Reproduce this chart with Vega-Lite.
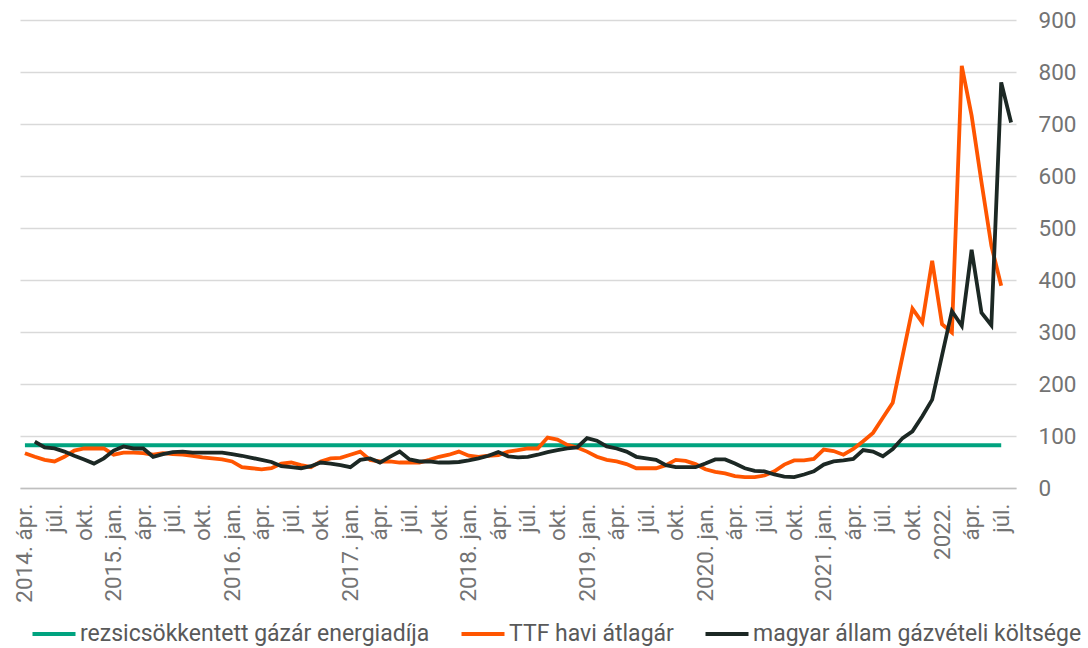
{
  "$schema": "https://vega.github.io/schema/vega-lite/v6.json",
  "autosize": {"type": "none"},
  "width": 996,
  "height": 468,
  "padding": {"top": 20, "left": 20, "right": 72, "bottom": 160},
  "background": "white",
  "config": {
    "view": {"stroke": null},
    "font": "Roboto"
  },
  "data": {
    "values": [
      {"month": "2014-04", "r": 82, "t": 67},
      {"month": "2014-05", "r": 82, "t": 60, "m": 89},
      {"month": "2014-06", "r": 82, "t": 54, "m": 78},
      {"month": "2014-07", "r": 82, "t": 51, "m": 76},
      {"month": "2014-08", "r": 82, "t": 60, "m": 70},
      {"month": "2014-09", "r": 82, "t": 72, "m": 62},
      {"month": "2014-10", "r": 82, "t": 76, "m": 55},
      {"month": "2014-11", "r": 82, "t": 76, "m": 47},
      {"month": "2014-12", "r": 82, "t": 76, "m": 57},
      {"month": "2015-01", "r": 82, "t": 64, "m": 72},
      {"month": "2015-02", "r": 82, "t": 68, "m": 80},
      {"month": "2015-03", "r": 82, "t": 68, "m": 76},
      {"month": "2015-04", "r": 82, "t": 67, "m": 76},
      {"month": "2015-05", "r": 82, "t": 64, "m": 60},
      {"month": "2015-06", "r": 82, "t": 67, "m": 65},
      {"month": "2015-07", "r": 82, "t": 65, "m": 69},
      {"month": "2015-08", "r": 82, "t": 64, "m": 70},
      {"month": "2015-09", "r": 82, "t": 62, "m": 68},
      {"month": "2015-10", "r": 82, "t": 59, "m": 68},
      {"month": "2015-11", "r": 82, "t": 57, "m": 68},
      {"month": "2015-12", "r": 82, "t": 55, "m": 68},
      {"month": "2016-01", "r": 82, "t": 51, "m": 65},
      {"month": "2016-02", "r": 82, "t": 40, "m": 62},
      {"month": "2016-03", "r": 82, "t": 38, "m": 58},
      {"month": "2016-04", "r": 82, "t": 36, "m": 54},
      {"month": "2016-05", "r": 82, "t": 38, "m": 50},
      {"month": "2016-06", "r": 82, "t": 47, "m": 42},
      {"month": "2016-07", "r": 82, "t": 49, "m": 40},
      {"month": "2016-08", "r": 82, "t": 44, "m": 38},
      {"month": "2016-09", "r": 82, "t": 40, "m": 42},
      {"month": "2016-10", "r": 82, "t": 51, "m": 49},
      {"month": "2016-11", "r": 82, "t": 57, "m": 47},
      {"month": "2016-12", "r": 82, "t": 58, "m": 44},
      {"month": "2017-01", "r": 82, "t": 64, "m": 40},
      {"month": "2017-02", "r": 82, "t": 70, "m": 54},
      {"month": "2017-03", "r": 82, "t": 54, "m": 57},
      {"month": "2017-04", "r": 82, "t": 51, "m": 49},
      {"month": "2017-05", "r": 82, "t": 51, "m": 60},
      {"month": "2017-06", "r": 82, "t": 49, "m": 70},
      {"month": "2017-07", "r": 82, "t": 49, "m": 55},
      {"month": "2017-08", "r": 82, "t": 49, "m": 51},
      {"month": "2017-09", "r": 82, "t": 54, "m": 51},
      {"month": "2017-10", "r": 82, "t": 60, "m": 49},
      {"month": "2017-11", "r": 82, "t": 64, "m": 49},
      {"month": "2017-12", "r": 82, "t": 70, "m": 50},
      {"month": "2018-01", "r": 82, "t": 62, "m": 53},
      {"month": "2018-02", "r": 82, "t": 60, "m": 57},
      {"month": "2018-03", "r": 82, "t": 62, "m": 62},
      {"month": "2018-04", "r": 82, "t": 63, "m": 69},
      {"month": "2018-05", "r": 82, "t": 70, "m": 61},
      {"month": "2018-06", "r": 82, "t": 73, "m": 59},
      {"month": "2018-07", "r": 82, "t": 76, "m": 60},
      {"month": "2018-08", "r": 82, "t": 76, "m": 64},
      {"month": "2018-09", "r": 82, "t": 97, "m": 69},
      {"month": "2018-10", "r": 82, "t": 93, "m": 73},
      {"month": "2018-11", "r": 82, "t": 83, "m": 76},
      {"month": "2018-12", "r": 82, "t": 78, "m": 78},
      {"month": "2019-01", "r": 82, "t": 70, "m": 96},
      {"month": "2019-02", "r": 82, "t": 60, "m": 91},
      {"month": "2019-03", "r": 82, "t": 54, "m": 80},
      {"month": "2019-04", "r": 82, "t": 51, "m": 76},
      {"month": "2019-05", "r": 82, "t": 46, "m": 70},
      {"month": "2019-06", "r": 82, "t": 38, "m": 60},
      {"month": "2019-07", "r": 82, "t": 38, "m": 57},
      {"month": "2019-08", "r": 82, "t": 38, "m": 54},
      {"month": "2019-09", "r": 82, "t": 44, "m": 44},
      {"month": "2019-10", "r": 82, "t": 54, "m": 40},
      {"month": "2019-11", "r": 82, "t": 52, "m": 40},
      {"month": "2019-12", "r": 82, "t": 46, "m": 40},
      {"month": "2020-01", "r": 82, "t": 36, "m": 47},
      {"month": "2020-02", "r": 82, "t": 31, "m": 55},
      {"month": "2020-03", "r": 82, "t": 28, "m": 55},
      {"month": "2020-04", "r": 82, "t": 23, "m": 47},
      {"month": "2020-05", "r": 82, "t": 21, "m": 38},
      {"month": "2020-06", "r": 82, "t": 21, "m": 33},
      {"month": "2020-07", "r": 82, "t": 24, "m": 32},
      {"month": "2020-08", "r": 82, "t": 32, "m": 26},
      {"month": "2020-09", "r": 82, "t": 45, "m": 22},
      {"month": "2020-10", "r": 82, "t": 53, "m": 21},
      {"month": "2020-11", "r": 82, "t": 53, "m": 26},
      {"month": "2020-12", "r": 82, "t": 56, "m": 32},
      {"month": "2021-01", "r": 82, "t": 74, "m": 45},
      {"month": "2021-02", "r": 82, "t": 71, "m": 51},
      {"month": "2021-03", "r": 82, "t": 64, "m": 53},
      {"month": "2021-04", "r": 82, "t": 75, "m": 56},
      {"month": "2021-05", "r": 82, "t": 90, "m": 73},
      {"month": "2021-06", "r": 82, "t": 106, "m": 70},
      {"month": "2021-07", "r": 82, "t": 135, "m": 61},
      {"month": "2021-08", "r": 82, "t": 164, "m": 75},
      {"month": "2021-09", "r": 82, "t": 254, "m": 96},
      {"month": "2021-10", "r": 82, "t": 345, "m": 109},
      {"month": "2021-11", "r": 82, "t": 318, "m": 138},
      {"month": "2021-12", "r": 82, "t": 437, "m": 170},
      {"month": "2022-01", "r": 82, "t": 315, "m": 255},
      {"month": "2022-02", "r": 82, "t": 299, "m": 340},
      {"month": "2022-03", "r": 82, "t": 812, "m": 312},
      {"month": "2022-04", "r": 82, "t": 716, "m": 458},
      {"month": "2022-05", "r": 82, "t": 588, "m": 337},
      {"month": "2022-06", "r": 82, "t": 466, "m": 313},
      {"month": "2022-07", "r": 82, "t": 389, "m": 780},
      {"month": "2022-08", "m": 703}
    ]
  },
  "transform": [
    {"fold": ["r", "t", "m"], "as": ["series", "value"]},
    {"filter": "isValid(datum.value)"}
  ],
  "encoding": {
    "x": {
      "field": "month",
      "type": "ordinal",
      "scale": {"type": "point", "padding": 0.5},
      "title": null,
      "axis": {
        "values": ["2014-04","2014-07","2014-10","2015-01","2015-04","2015-07","2015-10","2016-01","2016-04","2016-07","2016-10","2017-01","2017-04","2017-07","2017-10","2018-01","2018-04","2018-07","2018-10","2019-01","2019-04","2019-07","2019-10","2020-01","2020-04","2020-07","2020-10","2021-01","2021-04","2021-07","2021-10","2022-01","2022-04","2022-07"],
        "labelExpr": "datum.value == '2014-04' ? '2014. ápr.' : datum.value == '2022-01' ? '2022.' : slice(datum.value, 5) == '01' ? slice(datum.value, 0, 4) + '. jan.' : slice(datum.value, 5) == '04' ? 'ápr.' : slice(datum.value, 5) == '07' ? 'júl.' : 'okt.'",
        "labelAngle": -90,
        "labelFontSize": 22.5,
        "labelColor": "#737373",
        "labelPadding": 15,
        "labelOverlap": false,
        "ticks": false,
        "grid": false,
        "domain": true,
        "domainColor": "#bfbfbf",
        "domainWidth": 1.5
      }
    },
    "y": {
      "field": "value",
      "type": "quantitative",
      "scale": {"domain": [0, 900], "nice": false},
      "title": null,
      "axis": {
        "orient": "right",
        "values": [0, 100, 200, 300, 400, 500, 600, 700, 800, 900],
        "grid": true,
        "gridColor": "#d9d9d9",
        "gridWidth": 1.5,
        "domain": false,
        "ticks": false,
        "labelFontSize": 22.5,
        "labelColor": "#737373",
        "labelPadding": 22
      }
    },
    "color": {
      "field": "series",
      "type": "nominal",
      "scale": {"domain": ["r", "t", "m"], "range": ["#00a37f", "#ff5500", "#1c2824"]},
      "legend": {
        "title": null,
        "orient": "none",
        "direction": "horizontal",
        "legendX": 10,
        "legendY": 590,
        "symbolType": "stroke",
        "symbolSize": 1850,
        "symbolStrokeWidth": 4,
        "labelFontSize": 23,
        "labelColor": "#595959",
        "labelOffset": 2,
        "labelLimit": 600,
        "columnPadding": 23,
        "labelExpr": "datum.label == 'r' ? 'rezsicsökkentett gázár energiadíja' : datum.label == 't' ? 'TTF havi átlagár' : 'magyar állam gázvételi költsége'"
      }
    }
  },
  "layer": [
    {"transform": [{"filter": "datum.series == 'r'"}], "mark": {"type": "line", "strokeWidth": 4}},
    {"transform": [{"filter": "datum.series == 't'"}], "mark": {"type": "line", "strokeWidth": 3.8}},
    {"transform": [{"filter": "datum.series == 'm'"}], "mark": {"type": "line", "strokeWidth": 3.8}}
  ]
}
